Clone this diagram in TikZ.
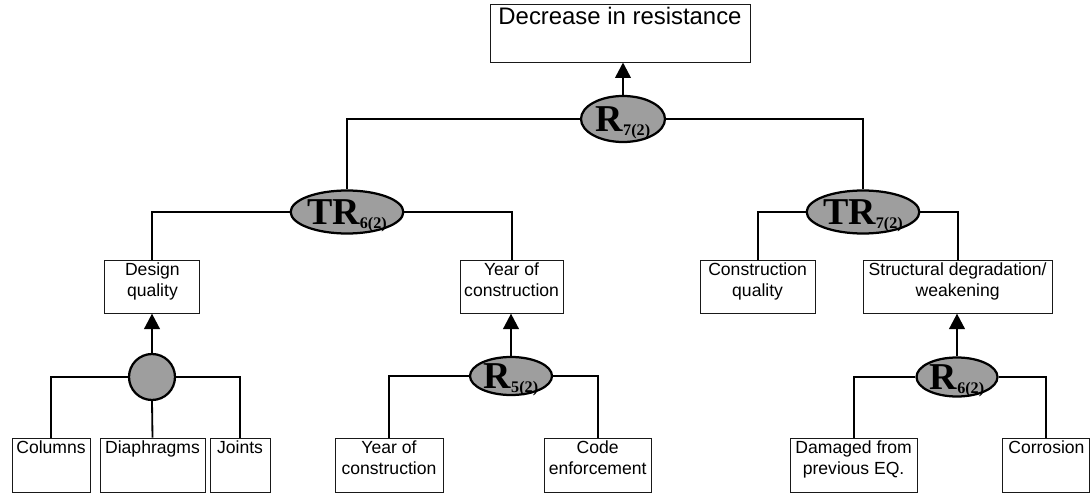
\documentclass[tikz,border=0pt]{standalone}
\usepackage{fontspec}
\setmainfont{Liberation Sans}
\newfontfamily\gatefont{Liberation Serif}
\usetikzlibrary{shapes.geometric,arrows.meta}

% box text: fixed size, set from the top
\newcommand{\ftext}[3]{\parbox[c][\dimexpr#2-4pt][t]{\dimexpr#1-4pt}{\centering #3}}
% gate label with its index
\newcommand{\gatelabel}[2]{\gatefont\bfseries #1\raisebox{-0.22ex}{\fontsize{11.5}{12}\selectfont #2}}

\begin{document}
\begin{tikzpicture}[
    factor/.style={draw=black!90, line width=0.7pt, inner sep=2pt, font=\fontsize{12.5}{14.7}\selectfont},
    gate/.style={ellipse, draw, line width=1.6pt, fill=black!38, inner sep=0pt,
      text height=17.8pt, text depth=0pt, font=\fontsize{27}{27}\selectfont},
    link/.style={line width=1.3pt},
    up/.style={line width=1.8pt, -{Triangle[width=11pt,length=11pt]}}
  ]
  \useasboundingbox (0,0) rectangle (27.275,12.375);

  % top event
  \node[factor, font=\fontsize{17}{20}\selectfont] (top) at (15.5,11.55) {\ftext{6.5cm}{1.45cm}{Decrease in resistance}};
  \node[gate, minimum width=2.1cm, minimum height=1.15cm] (r7) at (15.575,9.4) {\gatelabel{R}{7(2)}};

  % second level
  \node[gate, minimum width=2.775cm, minimum height=1.075cm] (tr6) at (8.675,7.075) {\gatelabel{TR}{6(2)}};
  \node[gate, minimum width=2.775cm, minimum height=1.075cm] (tr7) at (21.575,7.075) {\gatelabel{TR}{7(2)}};

  % third level
  \node[factor] (dq) at (3.81,5.21) {\ftext{2.375cm}{1.325cm}{Design\\quality}};
  \node[factor] (yc) at (12.79,5.21) {\ftext{2.575cm}{1.325cm}{Year of\\construction}};
  \node[factor] (cq) at (18.94,5.21) {\ftext{2.875cm}{1.325cm}{Construction\\quality}};
  \node[factor] (sd) at (23.94,5.21) {\ftext{4.725cm}{1.325cm}{Structural degradation/\\weakening}};

  % lower gates
  \node[gate, minimum width=1.15cm, minimum height=1.15cm] (g1) at (3.8,2.95) {};
  \node[gate, minimum width=2.05cm, minimum height=0.95cm] (r5) at (12.775,2.975) {\gatelabel{R}{5(2)}};
  \node[gate, minimum width=2.025cm, minimum height=0.975cm] (r6) at (23.925,2.95) {\gatelabel{R}{6(2)}};

  % basic factors
  \node[factor] (col) at (1.275,0.75) {\ftext{1.95cm}{1.35cm}{Columns}};
  \node[factor] (dia) at (3.8125,0.75) {\ftext{2.625cm}{1.35cm}{Diaphragms}};
  \node[factor] (joi) at (6.0,0.75) {\ftext{1.5cm}{1.35cm}{Joints}};
  \node[factor] (yb) at (9.725,0.75) {\ftext{2.7cm}{1.35cm}{Year of\\construction}};
  \node[factor] (ce) at (14.94,0.75) {\ftext{2.675cm}{1.35cm}{Code\\enforcement}};
  \node[factor] (dam) at (21.34,0.75) {\ftext{3.175cm}{1.35cm}{Damaged from\\previous EQ.}};
  \node[factor] (cor) at (26.16,0.75) {\ftext{2.175cm}{1.35cm}{Corrosion}};

  % tree links
  \draw[link] (r7.west) -| (tr6.north);
  \draw[link] (r7.east) -| (tr7.north);
  \draw[link] (tr6.west) -| (dq.north);
  \draw[link] (tr6.east) -| (yc.north);
  \draw[link] (tr7.west) -| (cq.north);
  \draw[link] (tr7.east) -| (sd.north);
  \draw[link] (g1.west) -| (col.north);
  \draw[link] (g1.south) -- (dia.north);
  \draw[link] (g1.east) -| (joi.north);
  \draw[link] (r5.west) -| (yb.north);
  \draw[link] (r5.east) -| (ce.north);
  \draw[link] (r6.west) -| (dam.north);
  \draw[link] (r6.east) -| (cor.north);

  % outputs of the gates
  \draw[up] (r7.north) -- (r7.north |- top.south);
  \draw[up] (g1.north) -- (g1.north |- dq.south);
  \draw[up] (r5.north) -- (r5.north |- yc.south);
  \draw[up] (r6.north) -- (r6.north |- sd.south);
\end{tikzpicture}
\end{document}
